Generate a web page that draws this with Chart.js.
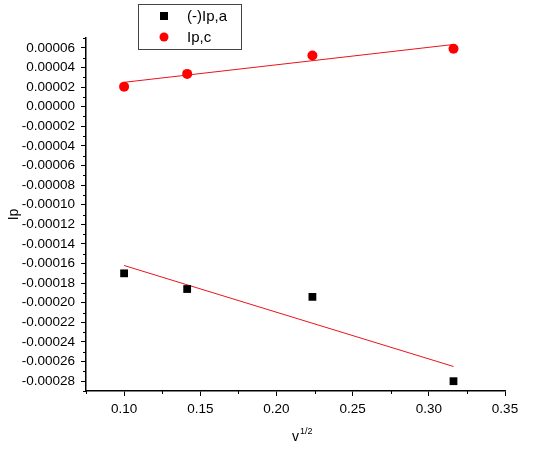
<!DOCTYPE html>
<html>
<head>
<meta charset="utf-8">
<script src="https://cdn.jsdelivr.net/npm/chart.js@4.4.0/dist/chart.umd.min.js"></script>
<style>
  html, body { margin: 0; padding: 0; background: #fff; }
  #wrap { width: 539px; height: 450px; }
</style>
</head>
<body>
<div id="wrap"><canvas id="peak-chart" width="539" height="450"></canvas></div>
<script>
// v^1/2 values (scan rates 0.01, 0.02, 0.05, 0.1)
const sqrtScanRate = [0.1, 0.1414, 0.2236, 0.3162];
const anodicPeak = [-0.000170, -0.000186, -0.000194, -0.000280];
const cathodicPeak = [0.0000204, 0.0000334, 0.0000521, 0.0000590];

// linear fit end points
const fitX = [0.1, 0.3162];
const anodicFit = [-0.000162, -0.000265];
const cathodicFit = [0.0000248, 0.0000634];

const xTicks = [0.10, 0.15, 0.20, 0.25, 0.30, 0.35];
const yTicks = [0.00006, 0.00004, 0.00002, 0.00000, -0.00002, -0.00004, -0.00006,
  -0.00008, -0.00010, -0.00012, -0.00014, -0.00016, -0.00018, -0.00020,
  -0.00022, -0.00024, -0.00026, -0.00028];

const FONT = '"Liberation Sans", Arial, sans-serif';

function toPoints(xs, ys) {
    return xs.map((x, i) => ({ x: x, y: ys[i] }));
}

// minor ticks, axis titles and the boxed legend
const extras = {
    id: 'extras',
    afterDraw(chart) {
        const ctx = chart.ctx;
        const xs = chart.scales.x;
        const ys = chart.scales.y;
        const area = chart.chartArea;

        ctx.save();
        ctx.strokeStyle = '#000';
        ctx.lineWidth = 1;
        // minor ticks on x
        for (let i = 0; i < xTicks.length; i++) {
            const v = xTicks[i] - 0.025;
            if (v < xs.min - 1e-9) continue;
            const px = Math.round(xs.getPixelForValue(v)) + 0.5;
            ctx.beginPath();
            ctx.moveTo(px, area.bottom);
            ctx.lineTo(px, area.bottom + 3);
            ctx.stroke();
        }
        // minor ticks on y
        const yMinor = yTicks.map(v => v + 0.00001).concat([yTicks[yTicks.length - 1] - 0.00001]);
        yMinor.forEach(v => {
            if (v > ys.max + 1e-12 || v < ys.min - 1e-12) return;
            const py = Math.round(ys.getPixelForValue(v)) + 0.5;
            ctx.beginPath();
            ctx.moveTo(area.left, py);
            ctx.lineTo(area.left - 3, py);
            ctx.stroke();
        });

        // y title
        ctx.fillStyle = '#000';
        ctx.font = '14px ' + FONT;
        ctx.textAlign = 'center';
        ctx.textBaseline = 'middle';
        ctx.save();
        ctx.translate(14, (area.top + area.bottom) / 2);
        ctx.rotate(-Math.PI / 2);
        ctx.fillText('Ip', 0, 0);
        ctx.restore();

        // x title with superscript
        ctx.textAlign = 'left';
        ctx.textBaseline = 'alphabetic';
        ctx.font = '14px ' + FONT;
        ctx.fillText('v', 292, 441);
        ctx.font = '9px ' + FONT;
        ctx.fillText('1/2', 300, 434);

        // legend box
        ctx.strokeStyle = '#444';
        ctx.lineWidth = 1;
        ctx.strokeRect(138.5, 4.5, 103, 45);
        ctx.font = '15px ' + FONT;
        ctx.textBaseline = 'middle';
        const legendItems = chart.data.datasets.filter(d => d.inLegend);
        legendItems.forEach((d, i) => {
            const cy = 16 + i * 21;
            ctx.fillStyle = d.backgroundColor;
            if (d.pointStyle === 'rect') {
                ctx.fillRect(160, cy - 4, 8, 8);
            } else {
                ctx.beginPath();
                ctx.arc(164, cy, 4.5, 0, Math.PI * 2);
                ctx.fill();
            }
            ctx.fillStyle = '#000';
            ctx.fillText(d.label, 187, cy + 1);
        });
        ctx.restore();
    }
};

const ctx = document.getElementById('peak-chart').getContext('2d');
new Chart(ctx, {
    type: 'scatter',
    data: {
        datasets: [
            {
                label: '(-)Ip,a',
                inLegend: true,
                data: toPoints(sqrtScanRate, anodicPeak),
                pointStyle: 'rect',
                pointRadius: 5.5,
                backgroundColor: '#000',
                borderColor: '#000',
                borderWidth: 0
            },
            {
                label: 'Ip,c',
                inLegend: true,
                data: toPoints(sqrtScanRate, cathodicPeak),
                pointStyle: 'circle',
                pointRadius: 5,
                backgroundColor: '#ff0000',
                borderColor: '#ff0000',
                borderWidth: 0
            },
            {
                label: 'fit a',
                type: 'line',
                data: toPoints(fitX, anodicFit),
                borderColor: '#e8141b',
                borderWidth: 1,
                pointRadius: 0,
                fill: false
            },
            {
                label: 'fit c',
                type: 'line',
                data: toPoints(fitX, cathodicFit),
                borderColor: '#e8141b',
                borderWidth: 1,
                pointRadius: 0,
                fill: false
            }
        ]
    },
    options: {
        responsive: false,
        animation: false,
        events: [],
        layout: { padding: { left: 0, top: 38, right: 34, bottom: 0 } },
        plugins: {
            legend: { display: false },
            tooltip: { enabled: false }
        },
        scales: {
            x: {
                type: 'linear',
                min: 0.075,
                max: 0.35,
                afterBuildTicks: (scale) => { scale.ticks = xTicks.map(v => ({ value: v })); },
                afterFit: (scale) => { scale.height = 59; },
                grid: { drawOnChartArea: false, drawTicks: true, tickLength: 5, color: '#000', lineWidth: 1 },
                border: { display: true, color: '#000', width: 1.5 },
                ticks: {
                    color: '#000',
                    padding: 5,
                    maxRotation: 0,
                    font: { family: FONT, size: 13.5 },
                    callback: (v) => Number(v).toFixed(2)
                }
            },
            y: {
                type: 'linear',
                min: -0.00029,
                max: 0.00007,
                afterBuildTicks: (scale) => { scale.ticks = yTicks.map(v => ({ value: v })); },
                afterFit: (scale) => { scale.width = 86; },
                grid: { drawOnChartArea: false, drawTicks: true, tickLength: 5, color: '#000', lineWidth: 1 },
                border: { display: true, color: '#000', width: 1.5 },
                ticks: {
                    color: '#000',
                    padding: 6,
                    font: { family: FONT, size: 13.5 },
                    callback: (v) => Number(v).toFixed(5)
                }
            }
        }
    },
    plugins: [extras]
});
</script>
</body>
</html>
